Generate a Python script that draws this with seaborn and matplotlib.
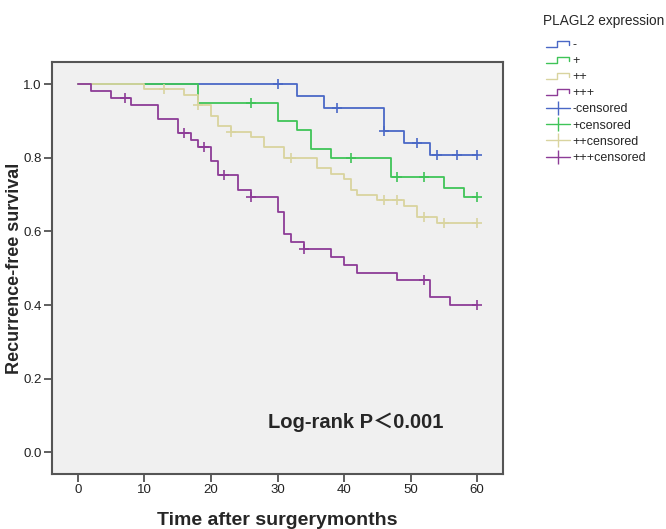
import matplotlib
matplotlib.use('Agg')
import matplotlib.pyplot as plt
from matplotlib.lines import Line2D
from matplotlib.legend_handler import HandlerBase
import seaborn as sns
import pandas as pd

# PLAGL2 expression groups
groups = ['-', '+', '++', '+++']
colors = ['#4A68C6', '#3FC458', '#D9D49F', '#8D3C97']

# step curves (time in months, survival)
neg_t = [0, 33, 37, 46, 49, 53, 60]
neg_s = [1.0, 0.968, 0.936, 0.872, 0.841, 0.807, 0.807]
pos_t = [0, 18, 30, 33, 35, 38, 47, 55, 58, 60]
pos_s = [1.0, 0.95, 0.90, 0.874, 0.823, 0.798, 0.747, 0.719, 0.692, 0.692]
pp_t = [0, 10, 16, 18, 20, 21, 23, 26, 28, 31, 36, 38, 40, 41, 42, 45, 49, 51, 54, 60]
pp_s = [1.0, 0.986, 0.971, 0.943, 0.914, 0.886, 0.871, 0.857, 0.828, 0.800,
        0.771, 0.757, 0.743, 0.713, 0.699, 0.684, 0.668, 0.639, 0.622, 0.622]
ppp_t = [0, 2, 5, 8, 12, 15, 17, 18, 20, 21, 24, 26, 30, 31, 32, 34, 38, 40, 42, 48, 53, 56, 60]
ppp_s = [1.0, 0.981, 0.962, 0.943, 0.906, 0.868, 0.849, 0.830, 0.792, 0.753, 0.713, 0.693,
         0.653, 0.592, 0.571, 0.551, 0.530, 0.509, 0.488, 0.467, 0.422, 0.400, 0.400]

# censored observations
neg_ct = [30, 39, 46, 51, 54, 57, 60]
neg_cs = [1.0, 0.936, 0.872, 0.841, 0.807, 0.807, 0.807]
pos_ct = [26, 41, 48, 52, 60]
pos_cs = [0.95, 0.798, 0.747, 0.747, 0.692]
pp_ct = [13, 18, 23, 32, 46, 48, 52, 55, 60]
pp_cs = [0.986, 0.943, 0.871, 0.800, 0.684, 0.684, 0.639, 0.622, 0.622]
ppp_ct = [7, 16, 19, 22, 26, 34, 52, 60]
ppp_cs = [0.962, 0.868, 0.830, 0.753, 0.693, 0.551, 0.467, 0.400]

curves = [(neg_t, neg_s), (pos_t, pos_s), (pp_t, pp_s), (ppp_t, ppp_s)]
censors = [(neg_ct, neg_cs), (pos_ct, pos_cs), (pp_ct, pp_cs), (ppp_ct, ppp_cs)]


class StepHandler(HandlerBase):
    # little step glyph like the SPSS legend
    def create_artists(self, legend, orig_handle, xdescent, ydescent,
                       width, height, fontsize, trans):
        x0 = -xdescent
        xs = [x0, x0 + 0.45 * width, x0 + 0.45 * width, x0 + 0.95 * width, x0 + 0.95 * width]
        ys = [0.15 * height, 0.15 * height, 0.85 * height, 0.85 * height, 0.35 * height]
        ln = Line2D(xs, [y - ydescent for y in ys], color=orig_handle.get_color(),
                    lw=1.0, transform=trans)
        return [ln]


sns.set_style('white')
plt.rcParams['font.family'] = ['Liberation Sans', 'Noto Sans CJK SC', 'DejaVu Sans']

fig = plt.figure(figsize=(6.66, 5.29), dpi=100)
ax = fig.add_axes([52 / 666, 55 / 529, 451 / 666, 412 / 529])
ax.set_facecolor('#F0F0F0')

for (t, s), (ct, cs), c in zip(curves, censors, colors):
    df = pd.DataFrame({'t': t, 's': s})
    sns.lineplot(data=df, x='t', y='s', drawstyle='steps-post', color=c, lw=1.3,
                 estimator=None, sort=False, ax=ax)
    cdf = pd.DataFrame({'t': ct, 's': cs})
    sns.scatterplot(data=cdf, x='t', y='s', marker='+', s=55, color=c,
                    linewidth=1.2, ax=ax, zorder=3)

ax.set_xlim(-3.9, 63.9)
ax.set_ylim(-0.059, 1.06)
ax.set_xticks(range(0, 61, 10))
ax.set_yticks([0.0, 0.2, 0.4, 0.6, 0.8, 1.0])
ax.set_yticklabels(['0.0', '0.2', '0.4', '0.6', '0.8', '1.0'])
ax.tick_params(axis='both', direction='out', length=6, width=1.2, color='#444444',
               labelsize=9.5, labelcolor='#222222', left=True, bottom=True, pad=1.5)
for sp in ax.spines.values():
    sp.set_color('#555555')
    sp.set_linewidth(1.5)

ax.set_xlabel('Time after surgerymonths', fontsize=14, fontweight='bold', labelpad=11)
ax.set_ylabel('Recurrence-free survival', fontsize=13, fontweight='bold', labelpad=0)

ax.text(41.7, 0.082, 'Log-rank P\uff1c0.001', fontsize=14.5, fontweight='bold',
        ha='center', va='center')

# legend: title drawn separately so the gap below it matches the reference
fig.text(543 / 666, 1 - 21 / 529, 'PLAGL2 expression', fontsize=9.8, ha='left', va='center')
handles = [Line2D([], [], color=c) for c in colors]
handles += [Line2D([], [], color=c, lw=1.0, marker='|', markersize=10, markeredgewidth=1.0)
            for c in colors]
labels = groups + [g + 'censored' for g in groups]
hmap = {h: StepHandler() for h in handles[:4]}
fig.legend(handles, labels, handler_map=hmap, loc='upper left',
           bbox_to_anchor=(546 / 666, 1 - 39 / 529), frameon=False, fontsize=9,
           handlelength=1.9, handletextpad=0.2, labelspacing=0.33, borderaxespad=0,
           borderpad=0, numpoints=1)

fig.savefig('out.png', dpi=100)
